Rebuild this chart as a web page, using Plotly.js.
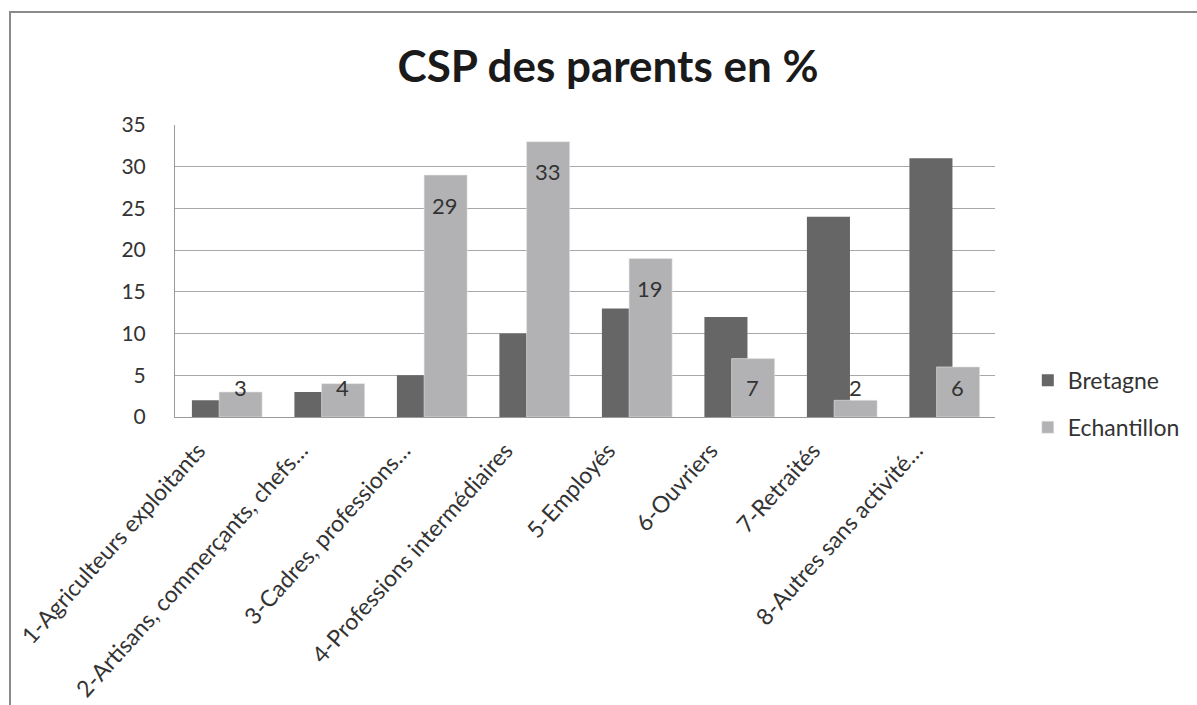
<!DOCTYPE html>
<html>
<head>
<meta charset="utf-8">
<script src="https://cdn.plot.ly/plotly-3.0.1.min.js"></script>
<style>
html,body{margin:0;padding:0;background:#fff;}
#wrap{position:relative;width:1197px;height:705px;overflow:hidden;}
#chart{width:1197px;height:705px;}
#frame{position:absolute;left:9px;top:11px;width:1200px;height:720px;border-top:2px solid #8a8a8a;border-left:2px solid #8a8a8a;pointer-events:none;}
</style>
</head>
<body>
<div id="wrap"><div id="chart"></div><div id="frame"></div></div>
<script>
const categories = [
  "1-Agriculteurs exploitants",
  "2-Artisans, commerçants, chefs…",
  "3-Cadres, professions…",
  "4-Professions intermédiaires",
  "5-Employés",
  "6-Ouvriers",
  "7-Retraités",
  "8-Autres sans activité…"
];
const bretagne = [2, 3, 5, 10, 13, 12, 24, 31];
const echantillon = [3, 4, 29, 33, 19, 7, 2, 6];
const seriesNames = ["Bretagne", "Echantillon"];
const yTicks = [0, 5, 10, 15, 20, 25, 30, 35];

const FONT = "Lato, 'Open Sans', sans-serif";
const TXT = "#333333";

const traces = [
  {
    type: "bar", name: seriesNames[0], x: categories, y: bretagne,
    marker: {color: "#666666", line: {width: 0}},
    width: 0.42, offset: -0.335, legendgroup: "a", hoverinfo: "skip"
  },
  {
    type: "bar", name: seriesNames[1], x: categories, y: echantillon,
    marker: {color: "#b2b2b5", line: {width: 0.6, color: "#e6e6e6"}},
    width: 0.42, offset: -0.07, legendgroup: "b", hoverinfo: "skip"
  }
];

const annotations = echantillon.map((v, i) => ({
  x: categories[i], y: Math.max(v - 3.6, 3.5), xref: "x", yref: "y",
  text: String(v), showarrow: false, xshift: 14,
  font: {family: FONT, size: 22, color: TXT}
}));

const layout = {
  width: 1197, height: 705,
  paper_bgcolor: "#ffffff", plot_bgcolor: "#ffffff",
  margin: {l: 175, r: 200, t: 125, b: 288},
  barmode: "overlay",
  title: {
    text: "<b>CSP des parents en %</b>",
    font: {family: FONT, size: 44, color: "#1a1a1a"},
    xref: "container", x: 0.508, xanchor: "center",
    yref: "container", y: 0.906, yanchor: "middle"
  },
  xaxis: {
    type: "category",
    tickangle: -48,
    tickfont: {family: FONT, size: 23, color: TXT},
    showline: true, linecolor: "#9a9a9a", linewidth: 1,
    showgrid: false, ticks: "", ticklabelstandoff: 10, ticklabelshift: -28
  },
  yaxis: {
    range: [0, 35], tickvals: yTicks,
    tickfont: {family: FONT, size: 21, color: TXT},
    showgrid: true, gridcolor: "#a8a8a8", gridwidth: 1,
    showline: true, linecolor: "#9a9a9a", linewidth: 1,
    zeroline: false, ticks: "", ticklabelstandoff: 24
  },
  legend: {
    x: 1.04, xanchor: "left", y: 0.045, yanchor: "middle",
    font: {family: FONT, size: 23, color: TXT},
    tracegroupgap: 14, itemwidth: 30, bgcolor: "rgba(0,0,0,0)"
  },
  annotations: annotations,
  showlegend: true
};

Plotly.newPlot("chart", traces, layout, {displayModeBar: false, staticPlot: true});
</script>
</body>
</html>
